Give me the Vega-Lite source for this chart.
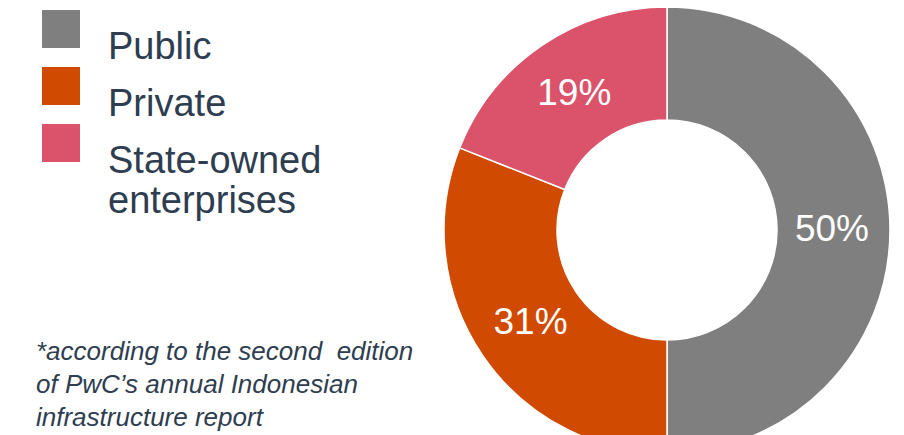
{
  "$schema": "https://vega.github.io/schema/vega-lite/v6.json",
  "width": 446,
  "height": 446,
  "autosize": {"type": "none"},
  "padding": {"left": 444, "top": 7, "right": 14, "bottom": 0},
  "background": "white",
  "data": {
    "values": [
      {"category": "Public", "value": 50, "label": "50%", "order": 1},
      {"category": "Private", "value": 31, "label": "31%", "order": 2},
      {"category": "State-owned enterprises", "value": 19, "label": "19%", "order": 3}
    ]
  },
  "title": {
    "text": ["*according to the second\u00a0 edition", "of PwC’s annual Indonesian", "infrastructure report"],
    "orient": "bottom",
    "anchor": "start",
    "frame": "group",
    "offset": 0,
    "dx": -408,
    "dy": -117,
    "font": "Liberation Sans",
    "fontSize": 26,
    "fontStyle": "italic",
    "fontWeight": "normal",
    "lineHeight": 33,
    "color": "#2E3D4F",
    "baseline": "top"
  },
  "encoding": {
    "theta": {"field": "value", "type": "quantitative", "stack": true},
    "order": {"field": "order", "type": "quantitative"}
  },
  "layer": [
    {
      "mark": {"type": "arc", "outerRadius": 223, "innerRadius": 110, "stroke": "white", "strokeWidth": 1.5},
      "encoding": {
        "color": {
          "field": "category",
          "type": "nominal",
          "scale": {
            "domain": ["Public", "Private", "State-owned enterprises"],
            "range": ["#7F7F7F", "#D04A02", "#DB536A"]
          },
          "legend": {
            "orient": "none",
            "legendX": -402,
            "legendY": 3,
            "title": null,
            "symbolType": "square",
            "symbolSize": 1444,
            "symbolStrokeWidth": 0,
            "labelFont": "Liberation Sans",
            "labelFontSize": 38,
            "labelColor": "#2E3D4F",
            "labelOffset": 28,
            "labelLimit": 400,
            "labelBaseline": "top",
            "rowPadding": 0,
            "padding": 0,
            "labelExpr": "datum.label == 'State-owned enterprises' ? ['State-owned', 'enterprises'] : datum.label"
          }
        }
      }
    },
    {
      "mark": {"type": "text", "radius": 165, "fontSize": 37, "font": "Liberation Sans", "color": "white"},
      "encoding": {
        "text": {"field": "label", "type": "nominal"}
      }
    }
  ]
}
